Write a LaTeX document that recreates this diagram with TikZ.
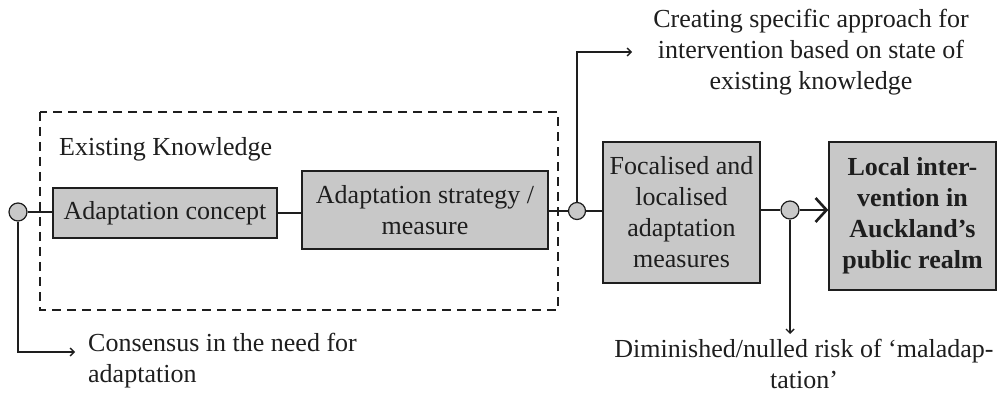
\documentclass[tikz,border=0pt]{standalone}
\usepackage{fontspec}
\setmainfont{Liberation Serif}
\usetikzlibrary{arrows.meta}
\definecolor{boxfill}{HTML}{C8C8C8}
\definecolor{ink}{HTML}{1E1E1E}
\tikzset{
  x=1pt, y=-1pt,
  every node/.style={text=ink, font=\fontsize{26}{31}\selectfont},
  gbox/.style={draw=ink, fill=boxfill, line width=1.4pt, inner sep=0pt, align=center},
  joint/.style={circle, draw=ink, fill=boxfill, line width=1.2pt, minimum size=18pt, inner sep=0pt},
  mainline/.style={draw=ink, line width=2pt},
  note/.style={draw=ink, line width=1.1pt, -{Straight Barb[length=4pt,width=8pt,line width=1.4pt]}},
  label/.style={inner sep=0pt, align=center},
}
\begin{document}
\begin{tikzpicture}
\useasboundingbox (0,0) rectangle (998,403);
% dashed frame
\draw[ink, line width=2.4pt, dash pattern=on 9pt off 6pt] (40,112) rectangle (558,310);
\node[label, anchor=west] (ek) at (59,149) {Existing Knowledge};

% boxes
\node[gbox, minimum width=224pt, minimum height=50pt] (b1) at (165,213) {Adaptation concept};
\node[gbox, minimum width=246pt, minimum height=78pt] (b2) at (425,210) {Adaptation strategy /\\measure};
\node[gbox, minimum width=157pt, minimum height=141pt] (b3) at (681.5,212.5) {Focalised and\\localised\\adaptation\\measures};
\node[gbox, minimum width=167pt, minimum height=148pt, font=\fontsize{26}{31}\selectfont\bfseries] (b4) at (912.5,216) {Local inter-\\vention in\\Auckland’s\\public realm};

% joints
\node[joint] (c1) at (18,212) {};
\node[joint, minimum size=17pt] (c2) at (577,211) {};
\node[joint] (c3) at (790,210) {};

% main flow
\draw[mainline] (c1) -- (c1 -| b1.west);
\draw[mainline] (b1.east) -- (b1.east -| b2.west);
\draw[mainline] (b2.east |- c2) -- (c2);
\draw[mainline] (c2) -- (c2 -| b3.west);
\draw[mainline] (b3.east |- c3) -- (c3);
\draw[mainline, -{Straight Barb[length=11pt,width=24pt,line width=2.6pt]}] (c3) -- (c3 -| b4.west);

% annotation texts
\node[label] (tc) at (811,52) {Creating specific approach for\\intervention based on state of\\existing knowledge};
\node[label, align=left, anchor=west] (tn) at (88,361) {Consensus in the need for\\adaptation};
\node[label] (td) at (804,364) {Diminished/nulled risk of ‘maladap-\\tation’};

% annotation arrows
\coordinate (e1) at (75,352);
\coordinate (e2) at (632,52);
\coordinate (e3) at (790,334);
\draw[note] (c1.south) |- (e1);
\draw[note] (c2.north) |- (e2);
\draw[note] (c3.south) -- (e3);
\end{tikzpicture}
\end{document}
